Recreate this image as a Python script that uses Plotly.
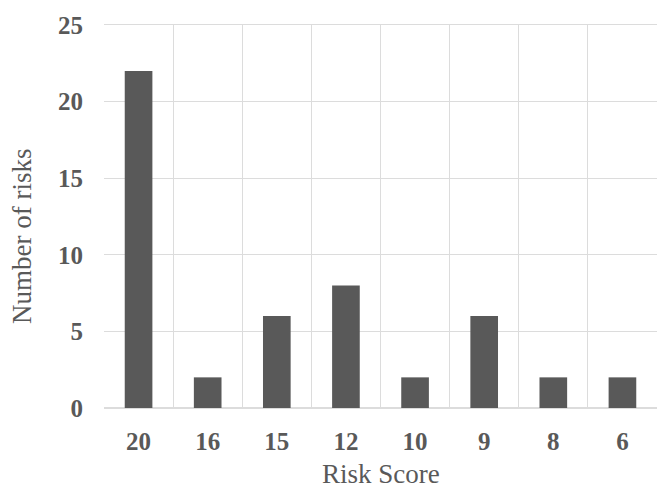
import plotly.graph_objects as go

categories = ["20", "16", "15", "12", "10", "9", "8", "6"]
counts = [22, 2, 6, 8, 2, 6, 2, 2]
y_ticks = [0, 5, 10, 15, 20, 25]
x_title = "Risk Score"
y_title = "Number of risks"

fig = go.Figure(go.Bar(x=categories, y=counts, marker_color="#595959",
                       marker_line_width=0, width=0.4))

font_family = "Liberation Serif, Times New Roman, serif"
fig.update_layout(
    width=662, height=480,
    margin=dict(l=96, r=13, t=17, b=80),
    plot_bgcolor="white", paper_bgcolor="white",
    font=dict(family=font_family, color="#595959"),
    showlegend=False,
)
fig.update_xaxes(
    type="category", tickson="boundaries", showgrid=True, gridcolor="#dcdcdc", gridwidth=1,
    showline=True, linecolor="#dcdcdc", mirror=True, automargin=False,
    ticks="outside", ticklen=0, tickcolor="rgba(0,0,0,0)",
    ticklabelstandoff=11,
    tickfont=dict(size=25, family=font_family, color="#595959", weight="bold"),
)
fig.update_yaxes(
    range=[0, 25], tickvals=y_ticks, showgrid=True, gridcolor="#dcdcdc", gridwidth=1,
    zeroline=True, zerolinecolor="#dcdcdc", showline=False, automargin=False,
    ticklabelstandoff=20,
    tickfont=dict(size=25, family=font_family, color="#595959", weight="bold"),
)
fig.add_annotation(text=x_title, xref="paper", yref="paper", x=0.5, y=-0.172,
                   xanchor="center", yanchor="middle", showarrow=False, borderpad=0,
                   font=dict(size=27, family=font_family, color="#595959"))
fig.add_annotation(text=y_title, xref="paper", yref="paper", x=-0.1483, y=0.449,
                   xanchor="center", yanchor="middle", showarrow=False, textangle=-90,
                   borderpad=0,
                   font=dict(size=27, family=font_family, color="#595959"))

fig.write_html("out.html")
